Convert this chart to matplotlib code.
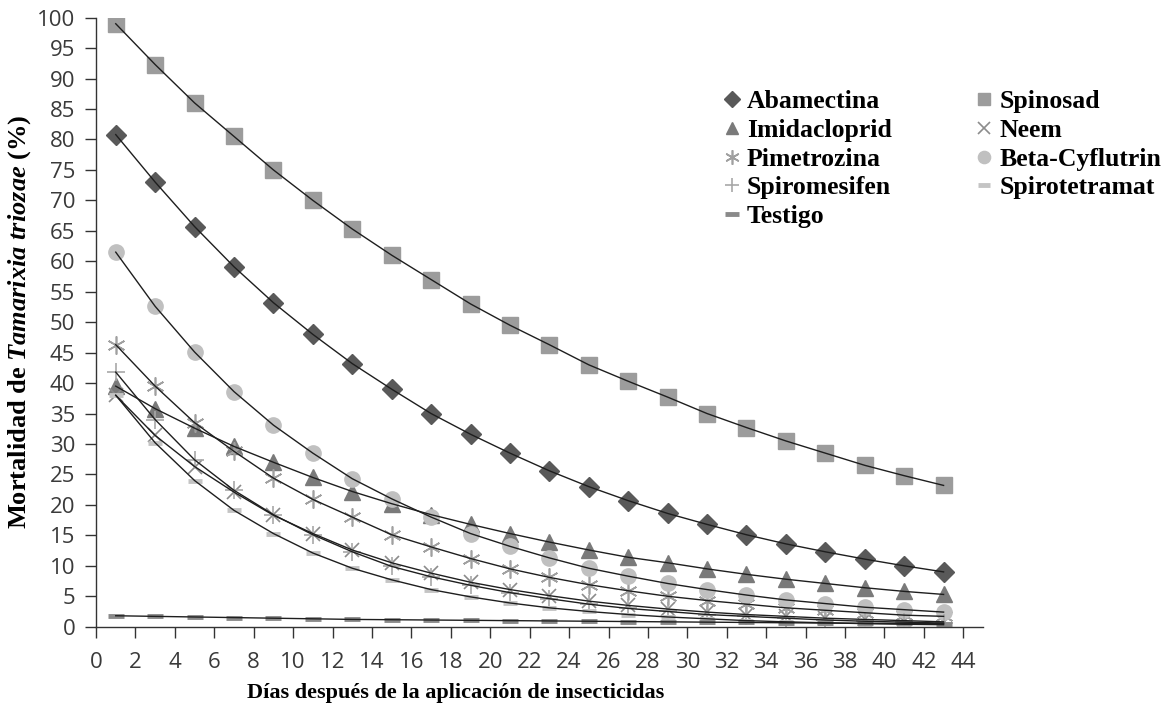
import matplotlib
matplotlib.use('Agg')
import matplotlib.pyplot as plt

plt.rcParams['mathtext.fontset'] = 'custom'
plt.rcParams['mathtext.rm'] = 'Liberation Serif:bold'
plt.rcParams['mathtext.it'] = 'Liberation Serif:italic:bold'
plt.rcParams['mathtext.bf'] = 'Liberation Serif:bold'
plt.rcParams['mathtext.bfit'] = 'Liberation Serif:italic:bold'

# dias despues de la aplicacion
dias = [1, 3, 5, 7, 9, 11, 13, 15, 17, 19, 21, 23, 25, 27, 29, 31, 33, 35, 37, 39, 41, 43]

# mortalidad (%) por insecticida
abamectina = [80.8, 73.0, 65.7, 59.1, 53.2, 48.0, 43.2, 39.0, 35.0, 31.6, 28.5,
              25.6, 23.0, 20.7, 18.6, 16.8, 15.1, 13.6, 12.3, 11.1, 10.0, 9.0]
spinosad = [99.0, 92.3, 86.0, 80.5, 75.0, 70.0, 65.3, 61.0, 57.0, 53.0, 49.5,
            46.3, 43.0, 40.3, 37.7, 35.0, 32.7, 30.5, 28.5, 26.5, 24.8, 23.2]
imidacloprid = [39.5, 35.8, 32.6, 29.6, 27.0, 24.5, 22.2, 20.2, 18.4, 16.8, 15.3,
                13.9, 12.6, 11.4, 10.5, 9.5, 8.6, 7.8, 7.1, 6.4, 5.8, 5.3]
neem = [38.0, 31.4, 26.3, 22.1, 18.3, 15.3, 12.6, 10.5, 8.8, 7.3, 6.1,
        5.1, 4.2, 3.5, 2.9, 2.4, 2.0, 1.7, 1.4, 1.2, 1.0, 0.8]
pimetrozina = [46.3, 39.5, 33.5, 28.8, 24.4, 20.9, 18.0, 15.1, 13.1, 11.2, 9.5,
               8.1, 6.9, 5.9, 5.0, 4.3, 3.7, 3.1, 2.7, 2.3, 1.9, 1.7]
beta_cyflutrin = [61.5, 52.6, 45.1, 38.6, 33.1, 28.5, 24.3, 21.0, 18.0, 15.3, 13.2,
                  11.3, 9.6, 8.3, 7.1, 6.1, 5.2, 4.4, 3.8, 3.2, 2.8, 2.4]
spiromesifen = [41.8, 34.0, 27.4, 22.4, 18.4, 15.1, 12.3, 9.9, 8.2, 6.8, 5.6,
                4.6, 3.7, 3.0, 2.5, 2.0, 1.7, 1.4, 1.1, 0.9, 0.75, 0.6]
spirotetramat = [38.0, 30.2, 24.0, 19.1, 15.3, 12.1, 9.6, 7.7, 6.1, 4.9, 3.9,
                 3.1, 2.5, 2.0, 1.6, 1.3, 1.0, 0.8, 0.65, 0.5, 0.4, 0.33]
testigo = [1.8, 1.7, 1.6, 1.5, 1.4, 1.3, 1.2, 1.15, 1.1, 1.05, 1.0,
           0.95, 0.9, 0.85, 0.8, 0.75, 0.7, 0.65, 0.6, 0.57, 0.54, 0.5]

series = [
    ('Abamectina', abamectina, dict(marker='D', ms=10, color='#595959')),
    ('Spinosad', spinosad, dict(marker='s', ms=11, color='#9c9c9c')),
    ('Imidacloprid', imidacloprid, dict(marker='^', ms=11, color='#7a7a7a')),
    ('Neem', neem, dict(marker='x', ms=10, color='#8c8c8c', mew=1.2)),
    ('Pimetrozina', pimetrozina, dict(marker=(6, 2, 0), ms=13, color='#a0a0a0', mew=1.2)),
    ('Beta-Cyflutrin', beta_cyflutrin, dict(marker='o', ms=11, color='#c0c0c0')),
    ('Spiromesifen', spiromesifen, dict(marker='+', ms=13, color='#a8a8a8', mew=1.2)),
    ('Spirotetramat', spirotetramat, dict(marker='_', ms=10, color='#c4c4c4', mew=3.5)),
    ('Testigo', testigo, dict(marker='_', ms=12, color='#8a8a8a', mew=3.5)),
]

fig = plt.figure(figsize=(11.64, 7.06), dpi=100)
ax = fig.add_axes([0.0825, 0.1123, 0.762, 0.8627])

handles = {}
for nombre, valores, estilo in series:
    h, = ax.plot(dias, valores, linestyle='none', zorder=2, **estilo)
    ax.plot(dias, valores, '-', color='#1e1e1e', lw=1.0, zorder=3)
    handles[nombre] = h

ax.set_xlim(0, 45)
ax.set_ylim(0, 100)
ax.set_xticks(range(0, 45, 2))
ax.set_yticks(range(0, 101, 5))
for s in ['top', 'right']:
    ax.spines[s].set_visible(False)
for s in ['left', 'bottom']:
    ax.spines[s].set_color('#333333')
    ax.spines[s].set_linewidth(1.0)
ax.tick_params(direction='out', length=8, width=1, color='#333333',
               labelsize=16, labelcolor='#3a3a3a')
ax.tick_params(axis='y', pad=7)
ax.tick_params(axis='x', pad=10)
for lab in ax.get_xticklabels() + ax.get_yticklabels():
    lab.set_family('Open Sans')

ax.set_xlabel('Días después de la aplicación de insecticidas', fontsize=16,
              family='Liberation Serif', fontweight='bold')
ax.xaxis.set_label_coords(0.405, -0.092)
ax.set_ylabel(r'Mortalidad de $\mathbfit{Tamarixia\ triozae}$ (%)', fontsize=19,
              family='Liberation Serif', fontweight='bold')
ax.yaxis.set_label_coords(-0.071, 0.5)

orden = ['Abamectina', 'Imidacloprid', 'Pimetrozina', 'Spiromesifen', 'Testigo',
         'Spinosad', 'Neem', 'Beta-Cyflutrin', 'Spirotetramat']
fig.legend([handles[n] for n in orden], orden, ncol=2, loc='upper left',
           bbox_to_anchor=(0.602, 0.905), frameon=False,
           prop={'family': 'Liberation Serif', 'weight': 'bold', 'size': 18.5},
           handlelength=0.6, handletextpad=0.3, labelspacing=0.22,
           columnspacing=3.3, markerscale=0.8)

fig.savefig('out.png', dpi=100)
